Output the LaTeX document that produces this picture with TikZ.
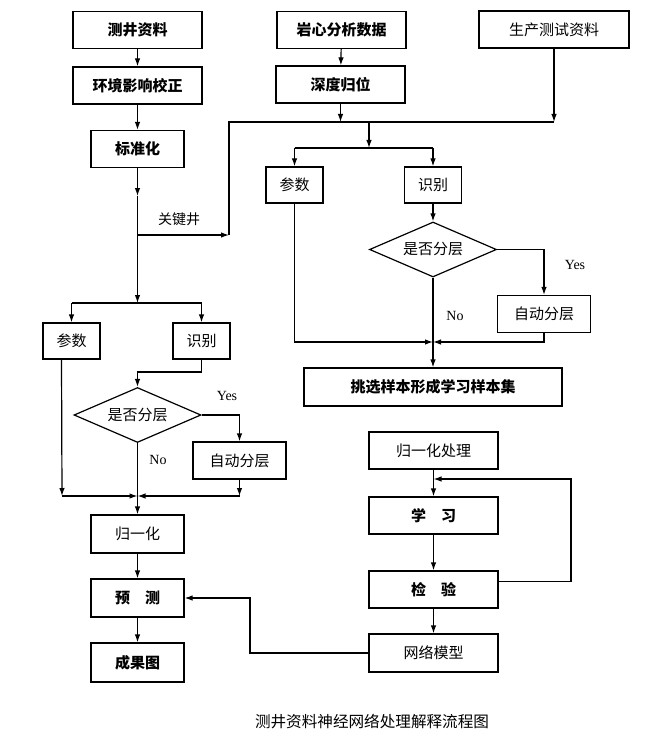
\documentclass[tikz,border=0pt]{standalone}
\usepackage{fontspec}
\setmainfont{Liberation Serif}
\newfontfamily\cjk{Noto Sans CJK SC}
\usetikzlibrary{shapes.geometric,arrows.meta}

\begin{document}
\begin{tikzpicture}[x=1pt,y=-1pt,line width=1.2pt,
	box/.style={draw,inner sep=0pt,font=\cjk\fontsize{15}{18}\selectfont},
	boldbox/.style={box,font=\cjk\bfseries\fontsize{15}{18}\selectfont},
	wide/.style={minimum width=129pt,minimum height=37pt},
	mid/.style={minimum width=93pt,minimum height=37pt},
	small/.style={minimum width=57pt,minimum height=36pt},
	decide/.style={draw,diamond,aspect=2.3,inner sep=0pt,minimum width=127pt,minimum height=55pt,font=\cjk\fontsize{15}{18}\selectfont},
	arr/.style={-{Latex[length=8pt,width=5.5pt]}},
	lbl/.style={font=\fontsize{14}{16}\selectfont}]
	\useasboundingbox (0,0) rectangle (660,754);
	\node[boldbox,wide] (well) at (137.5,30) {测井资料};
	\node[boldbox,wide] (env) at (137.5,85.5) {环境影响校正};
	\node[boldbox,mid] (std) at (137.5,149) {标准化};
	\node[boldbox,wide] (core) at (341.5,30) {岩心分析数据};
	\node[boldbox,wide] (depth) at (340.5,84.5) {深度归位};
	\node[box,minimum width=150pt,minimum height=37pt] (prod) at (554,29.5) {生产测试资料};
	\node[box,small] (rpar) at (294.5,185) {参数};
	\node[box,small] (rid) at (433,185) {识别};
	\node[decide] (rdec) at (433,249.5) {是否分层};
	\node[box,mid] (rauto) at (544,314) {自动分层};
	\node[boldbox,minimum width=258pt,minimum height=38pt] (sample) at (433,387) {挑选样本形成学习样本集};
	\node[box,small] (lpar) at (71.5,341) {参数};
	\node[box,small] (lid) at (201.5,341) {识别};
	\node[decide] (ldec) at (137.5,415) {是否分层};
	\node[box,mid] (lauto) at (239.5,460.5) {自动分层};
	\node[box,mid,minimum height=38pt] (norm) at (137.5,534) {归一化};
	\node[boldbox,mid,minimum height=38pt] (pred) at (137.5,598) {预\quad 测};
	\node[boldbox,mid,minimum height=39pt] (result) at (137.5,662.5) {成果图};
	\node[box,wide] (nproc) at (433.5,450.5) {归一化处理};
	\node[boldbox,wide] (learn) at (433.5,515.5) {学\quad 习};
	\node[boldbox,wide] (check) at (433.5,589.5) {检\quad 验};
	\node[box,wide,minimum height=38pt] (model) at (433.5,653) {网络模型};
	\node[font=\cjk\fontsize{14}{16}\selectfont] (keylbl) at (179,219) {关键井};
	\node[lbl] (ryes) at (575,265) {Yes};
	\node[lbl] (rno) at (455,316) {No};
	\node[lbl] (lyes) at (227,396) {Yes};
	\node[lbl] (lno) at (158,460) {No};
	\node[font=\cjk\fontsize{15.6}{18}\selectfont] (title) at (372,722) {测井资料神经网络处理解释流程图};
	\coordinate (lmid) at (137.5,196);
	\coordinate (key) at (137.5,235);
	\coordinate (keyend) at (229,235);
	\coordinate (busl) at (229,122);
	\coordinate (busm) at (369,122);
	\coordinate (rsplit) at (369,148);
	\coordinate (rjoin) at (433,342);
	\coordinate (lsplit) at (137.5,303);
	\coordinate (lbend) at (201.5,372);
	\coordinate (ljoin) at (137.5,496);
	\coordinate (lpardrop) at (62,496);
	\coordinate (fbtop) at (571,479);
	\coordinate (fbin) at (433.5,479);
	\coordinate (mbend) at (250,653);
	\draw[arr] (well) -- (env);
	\draw[arr] (env) -- (std);
	\draw[arr] (std) -- (lmid);
	\draw (lmid) -- (key);
	\draw[arr] (key) -- (keyend);
	\draw (keyend) -- (busl) -- (prod |- busl);
	\draw[arr] (core) -- (depth);
	\draw[arr] (depth) -- (depth |- busl);
	\draw[arr] (prod) -- (prod |- busl);
	\draw[arr] (busm) -- (rsplit);
	\draw (rpar |- rsplit) -- (rid |- rsplit);
	\draw[arr] (rpar |- rsplit) -- (rpar);
	\draw[arr] (rid |- rsplit) -- (rid);
	\draw[arr] (rid) -- (rdec);
	\draw[arr] (rdec.east) -| (rauto);
	\draw[arr] (rdec) -- (sample);
	\draw[arr] (rpar.south) |- (rjoin);
	\draw[arr] (rauto.south) |- (rjoin);
	\draw[arr] (key) -- (lsplit);
	\draw (lpar |- lsplit) -- (lid |- lsplit);
	\draw[arr] (lpar |- lsplit) -- (lpar);
	\draw[arr] (lid |- lsplit) -- (lid);
	\draw (lid) -- (lbend);
	\draw[arr] (lbend) -| (ldec);
	\draw[arr] (ldec.east) -| (lauto);
	\draw[arr] (ldec) -- (norm);
	\draw[arr] ([xshift=-10pt]lpar.south) -- (lpardrop);
	\draw[arr] (lpardrop) -- (ljoin);
	\draw[arr] (lauto) -- (lauto |- ljoin);
	\draw[arr] (lauto |- ljoin) -- (ljoin);
	\draw[arr] (norm) -- (pred);
	\draw[arr] (pred) -- (result);
	\draw[arr] (nproc) -- (learn);
	\draw[arr] (learn) -- (check);
	\draw[arr] (check) -- (model);
	\draw[arr] ([yshift=8pt]check.east) -| (fbtop) -- (fbin);
	\draw[arr] (model.west) -- (mbend) |- (pred.east);
\end{tikzpicture}
\end{document}
